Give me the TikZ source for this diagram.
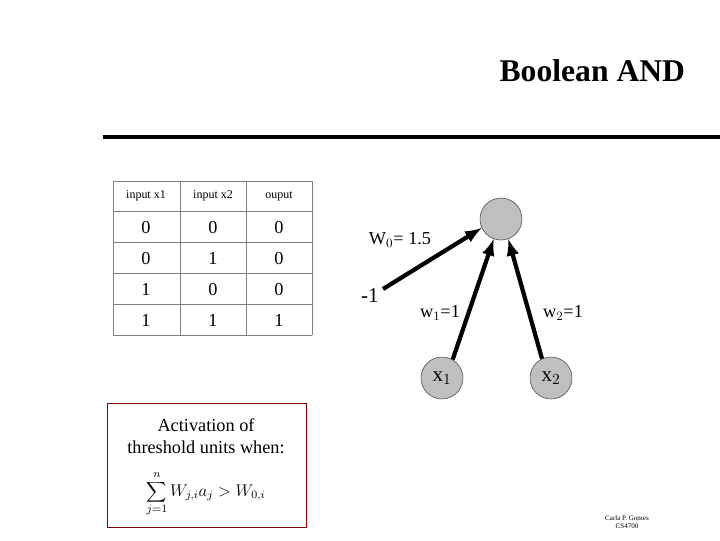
\documentclass[tikz,border=0pt]{standalone}
\usepackage{fontspec}
\setmainfont{Liberation Serif}
\usetikzlibrary{positioning}
\tikzset{
	unitnode/.style={circle, draw=black!70, fill=black!25, minimum size=10.5mm, inner sep=0pt},
	wline/.style={-latex, line width=3pt},
	cell/.style={font=\fontsize{13}{15}\selectfont, text height=9pt, text depth=0pt},
	headcell/.style={font=\fontsize{8.5}{10}\selectfont}
}
\begin{document}
\begin{tikzpicture}[x=0.025cm, y=-0.025cm]
		\useasboundingbox (0,0) rectangle (720,540);
		% title
		\node[font=\bfseries\fontsize{22.5}{26}\selectfont, anchor=east] (title) at (690,71) {Boolean AND};
		\draw[line width=2.4pt] (103,137) coordinate (rl) -- (720,137) coordinate (rr);
		% table
		\foreach \y in {181,211,242,273,304,335} \draw[black!50] (113,\y) -- (312,\y);
		\foreach \x in {113,180,246,312} \draw[black!50] (\x,181) -- (\x,335);
		\node[headcell] (h1) at (146,196) {input x1};
		\node[headcell] (h2) at (213,196) {input x2};
		\node[headcell] (h3) at (279,196) {ouput};
		\foreach \a/\b/\c [count=\i] in {0/0/0,0/1/0,1/0/0,1/1/1}{
			\node[cell] at (146,{196+\i*31}) {\a};
			\node[cell] at (213,{196+\i*31}) {\b};
			\node[cell] at (279,{196+\i*31}) {\c};
		}
		% unit
		\node[unitnode] (out) at (501,219) {};
		\node[unitnode, font=\fontsize{15}{17}\selectfont] (x1) at (442,378) {x$_1$};
		\node[unitnode, font=\fontsize{15}{17}\selectfont] (x2) at (551,378) {x$_2$};
		\node[font=\fontsize{15}{17}\selectfont] (bias) at (370,296) {-1};
		\coordinate (b0) at (383,289);
		\draw[wline] (b0) -- (out.205);
		\draw[wline] (x1.60) -- (out.250);
		\draw[wline] (x2.115) -- (out.290);
		\node[font=\fontsize{13}{15}\selectfont] (w0) at (400,240) {W$_0$= 1.5};
		\node[font=\fontsize{13}{15}\selectfont] (w1) at (440,313) {w$_1$=1};
		\node[font=\fontsize{13}{15}\selectfont] (w2) at (563,313) {w$_2$=1};
		% activation box
		\draw[red!50!black] (107,403) rectangle (306,527);
		\node[align=center, font=\fontsize{13}{16}\selectfont] (act) at (206,436) {Activation of\\threshold units when:};
		\node[font=\fontsize{12}{14}\selectfont] (sum) at (206,494) {$\displaystyle\sum_{j=1}^{n} W_{j,i}a_j > W_{0,i}$};
		% credit
		\node[align=center, font=\fontsize{5}{6}\selectfont] (cred) at (627,522) {Carla P. Gomes\\CS4700};
	\end{tikzpicture}
\end{document}
